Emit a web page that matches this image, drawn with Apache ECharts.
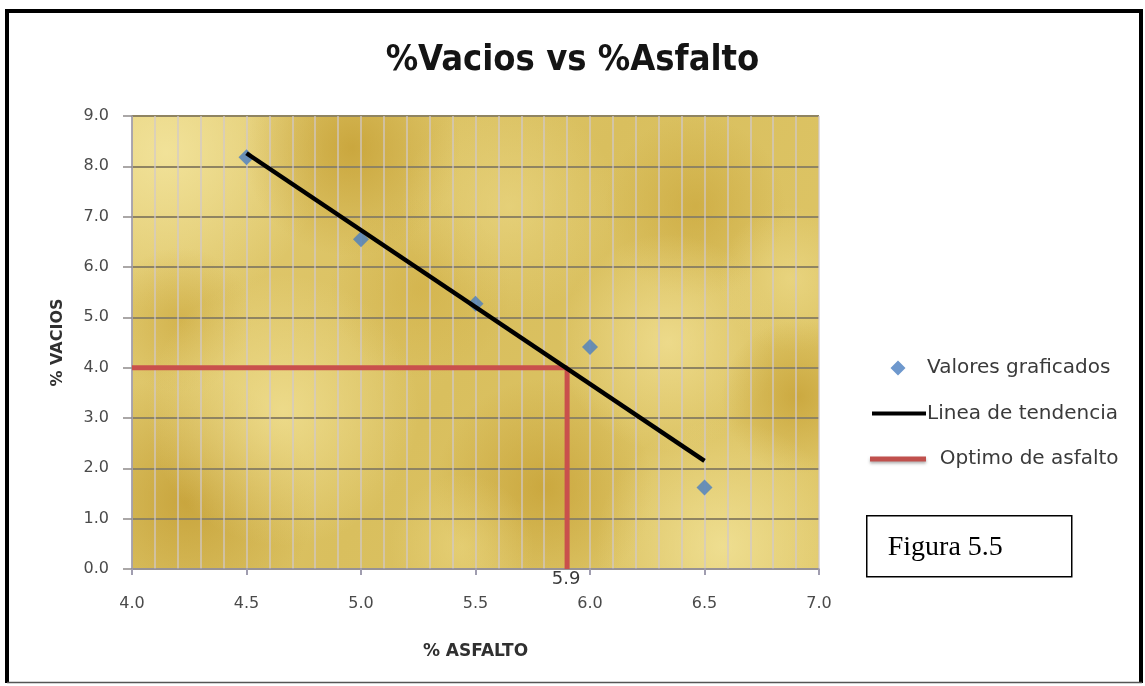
<!DOCTYPE html>
<html>
<head>
<meta charset="utf-8">
<title>%Vacios vs %Asfalto</title>
<script src="https://cdn.jsdelivr.net/npm/echarts@6/dist/echarts.min.js"></script>
<style>
  html, body { margin: 0; padding: 0; background: #ffffff; }
  #chart { width: 1145px; height: 686px; }
</style>
</head>
<body>
<div id="chart"></div>
<script>
// Ensayo Marshall: porcentaje de vacíos frente al porcentaje de asfalto
const asfalto = [4.5, 5.0, 5.5, 6.0, 6.5];
const vacios = [8.18, 6.55, 5.27, 4.41, 1.62];

// Recta de tendencia (extremos)
const tendenciaX = [4.5, 6.5];
const tendenciaY = [8.26, 2.15];

// Óptimo de asfalto para 4 % de vacíos
const optimoAsfalto = 5.9;
const vaciosObjetivo = 4.0;

// Escalas de los ejes
const xTicks = { min: 4.0, max: 7.0, step: 0.5 };
const yTicks = { min: 0.0, max: 9.0, step: 1.0 };

// ---- layout ----
const PLOT = { left: 132, top: 116, width: 687, height: 453 };

const scatterData = asfalto.map((x, i) => [x, vacios[i]]);
const trendData = tendenciaX.map((x, i) => [x, tendenciaY[i]]);
const optimoData = [
  [xTicks.min, vaciosObjetivo],
  [optimoAsfalto, vaciosObjetivo],
  [optimoAsfalto, yTicks.min]
];

// mottled gold texture of the plotting area: [cx, cy, radius, colour] as fractions of the plot box
const texture = [
  [0.05, 0.08, 0.35, 'rgba(244,230,160,0.85)'],
  [0.08, 0.85, 0.28, 'rgba(192,152,44,0.7)'],
  [0.07, 0.45, 0.16, 'rgba(200,162,52,0.5)'],
  [0.32, 0.07, 0.24, 'rgba(194,154,44,0.7)'],
  [0.22, 0.65, 0.30, 'rgba(242,226,150,0.75)'],
  [0.42, 0.38, 0.20, 'rgba(206,170,62,0.5)'],
  [0.55, 0.20, 0.24, 'rgba(238,220,140,0.55)'],
  [0.60, 0.82, 0.24, 'rgba(194,154,44,0.65)'],
  [0.48, 0.95, 0.16, 'rgba(236,216,130,0.55)'],
  [0.82, 0.20, 0.20, 'rgba(198,160,50,0.55)'],
  [0.78, 0.50, 0.24, 'rgba(244,228,155,0.7)'],
  [0.96, 0.36, 0.16, 'rgba(238,220,140,0.65)'],
  [0.97, 0.62, 0.17, 'rgba(194,154,44,0.65)'],
  [0.86, 0.95, 0.28, 'rgba(244,230,158,0.75)']
];

const bgElements = [{
  type: 'rect',
  z: -20,
  silent: true,
  shape: { x: PLOT.left, y: PLOT.top, width: PLOT.width, height: PLOT.height },
  style: {
    fill: {
      type: 'linear', x: 0, y: 0, x2: 1, y2: 1,
      colorStops: [
        { offset: 0, color: '#e2cb72' },
        { offset: 0.5, color: '#d9bf5e' },
        { offset: 1, color: '#dfc769' }
      ]
    }
  }
}].concat(texture.map(([fx, fy, r, c]) => ({
  type: 'rect',
  z: -19,
  silent: true,
  shape: { x: PLOT.left, y: PLOT.top, width: PLOT.width, height: PLOT.height },
  style: {
    fill: {
      type: 'radial', x: fx, y: fy, r: r,
      colorStops: [
        { offset: 0, color: c },
        { offset: 1, color: c.replace(/[\d.]+\)$/, '0)') }
      ]
    }
  }
})));

// outer frame and figure caption box
const frame = [
  { type: 'line', z: 50, silent: true, shape: { x1: 7, y1: 11, x2: 1142, y2: 11 }, style: { stroke: '#000', lineWidth: 4 } },
  { type: 'line', z: 50, silent: true, shape: { x1: 7, y1: 9, x2: 7, y2: 683 }, style: { stroke: '#000', lineWidth: 4 } },
  { type: 'line', z: 50, silent: true, shape: { x1: 1141, y1: 9, x2: 1141, y2: 683 }, style: { stroke: '#000', lineWidth: 4 } },
  { type: 'line', z: 50, silent: true, shape: { x1: 7, y1: 682.5, x2: 1142, y2: 682.5 }, style: { stroke: '#555', lineWidth: 1.5 } },
  {
    type: 'group', left: 866, top: 515, z: 50,
    children: [
      { type: 'rect', shape: { x: 0, y: 0, width: 205, height: 61 }, style: { fill: '#fff', stroke: '#000', lineWidth: 1.5 } },
      { type: 'text', x: 21, y: 32, style: { text: 'Figura 5.5', font: '28px "Liberation Serif", "Times New Roman", serif', fill: '#000', textVerticalAlign: 'middle' } }
    ]
  }
];

// legend glyphs drawn inside a fixed 56x16 box (corner points pin the box size)
const BOX = 'M0,0L0.01,0M56,16L55.99,16';
const iconDiamond = 'path://' + BOX + 'M28,0.5L35.5,8L28,15.5L20.5,8Z';
const iconBlack = 'path://' + BOX + 'M2,6H56V10H2Z';
const iconRed = 'path://' + BOX + 'M0,5.5H56V10.5H0Z';

const axisFont = '"DejaVu Sans", Verdana, sans-serif';

const chart = echarts.init(document.getElementById('chart'), null, { renderer: 'canvas' });
chart.setOption({
  animation: false,
  backgroundColor: '#ffffff',
  title: {
    text: '%Vacios vs %Asfalto',
    left: 'center',
    top: 38,
    textStyle: {
      fontFamily: '"Liberation Sans Narrow", "DejaVu Sans Condensed", "Arial Narrow", sans-serif',
      fontWeight: 'bold',
      fontSize: 36,
      color: '#141414'
    }
  },
  grid: { left: PLOT.left, top: PLOT.top, width: PLOT.width, height: PLOT.height, show: false },
  legend: {
    orient: 'vertical',
    left: 865,
    top: 352,
    itemWidth: 56,
    itemHeight: 16,
    itemGap: 23.5,
    padding: 5,
    textStyle: { fontFamily: axisFont, fontSize: 20, color: '#3a3a3a', lineHeight: 22, padding: [0, 0, 0, -4] },
    formatter: name => name === 'Optimo de asfalto' ? '  ' + name : name,
    data: [
      { name: 'Valores graficados', icon: iconDiamond, itemStyle: { color: '#4a7ec0' } },
      { name: 'Linea de tendencia', icon: iconBlack, itemStyle: { color: '#000000' } },
      { name: 'Optimo de asfalto', icon: iconRed, itemStyle: { color: '#c0504d', shadowColor: 'rgba(0,0,0,0.3)', shadowBlur: 3, shadowOffsetY: 2 } }
    ]
  },
  xAxis: {
    type: 'value',
    min: xTicks.min,
    max: xTicks.max,
    interval: xTicks.step,
    name: '% ASFALTO',
    nameLocation: 'middle',
    nameGap: 74,
    nameTextStyle: { fontFamily: axisFont, fontWeight: 'bold', fontSize: 17, color: '#303030' },
    axisLine: { show: true, onZero: false, lineStyle: { color: '#9a97a6', width: 1.5 } },
    axisTick: { show: true, length: 6, lineStyle: { color: '#a09db0', width: 2 } },
    axisLabel: {
      margin: 27,
      fontFamily: axisFont, fontSize: 16, color: '#4a4a4a',
      formatter: v => v.toFixed(1)
    },
    splitLine: { show: true, lineStyle: { color: 'rgba(208,200,204,0.85)', width: 1.5 } },
    minorTick: { show: false, splitNumber: 5 },
    minorSplitLine: { show: true, lineStyle: { color: 'rgba(208,200,204,0.85)', width: 1.5 } }
  },
  yAxis: {
    type: 'value',
    min: yTicks.min,
    max: yTicks.max,
    interval: yTicks.step,
    name: '% VACIOS',
    nameLocation: 'middle',
    nameGap: 66,
    nameTextStyle: { fontFamily: axisFont, fontWeight: 'bold', fontSize: 16, color: '#303030' },
    axisLine: { show: true, lineStyle: { color: '#9a97a6', width: 1.5 } },
    axisTick: { show: true, length: 9, lineStyle: { color: '#8f8a8a', width: 1.5 } },
    axisLabel: {
      margin: 23,
      fontFamily: axisFont, fontSize: 16, color: '#4a4a4a',
      formatter: v => v.toFixed(1)
    },
    splitLine: { show: true, lineStyle: { color: '#8f8462', width: 1.8 } }
  },
  series: [
    {
      name: 'Valores graficados',
      type: 'scatter',
      symbol: 'diamond',
      symbolSize: 16,
      itemStyle: { color: '#4a7ec0' },
      data: scatterData,
      z: 3
    },
    {
      name: 'Optimo de asfalto',
      type: 'line',
      symbol: 'none',
      clip: false,
      itemStyle: { color: '#c9504c' },
      lineStyle: { color: '#c9504c', width: 5 },
      data: optimoData,
      endLabel: {
        show: true,
        formatter: () => optimoAsfalto.toFixed(1),
        fontFamily: axisFont,
        fontSize: 18,
        color: '#3a3a3a',
        align: 'center',
        verticalAlign: 'top',
        offset: [-9, 1]
      },
      z: 4
    },
    {
      name: 'Linea de tendencia',
      type: 'line',
      symbol: 'none',
      itemStyle: { color: '#000000' },
      lineStyle: { color: '#000000', width: 4.5 },
      data: trendData,
      z: 5
    }
  ],
  graphic: bgElements.concat(frame)
});
</script>
</body>
</html>
